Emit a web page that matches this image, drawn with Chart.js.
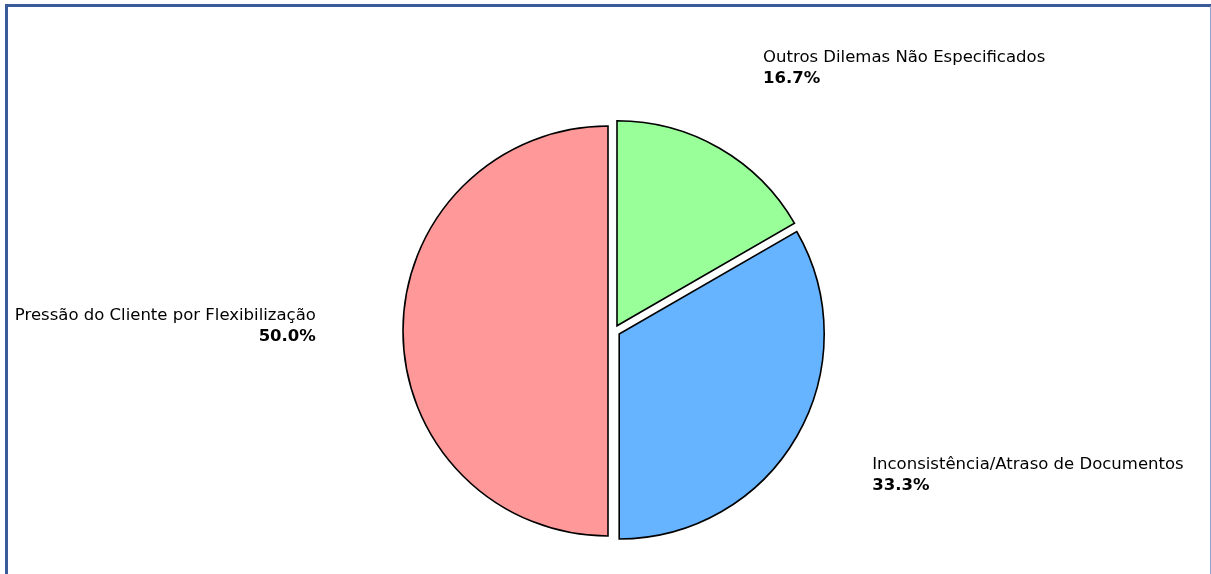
<!DOCTYPE html>
<html>
<head>
<meta charset="utf-8">
<script src="https://cdn.jsdelivr.net/npm/chart.js@4.4.0/dist/chart.umd.min.js"></script>
<style>
  html, body { margin: 0; padding: 0; background: #ffffff; }
  #wrap { position: relative; width: 1211px; height: 574px; overflow: hidden; background: #fff; }
  #c { position: absolute; left: 0; top: 0; }
  #frame { position: absolute; left: 5px; top: 4px; width: 1202px; height: 600px;
           border-left: 3px solid #3b5a9a; border-top: 3px solid #3b5a9a; border-right: 2px solid #8ea5d0; }
</style>
</head>
<body>
<div id="wrap">
  <canvas id="c" width="1211" height="574"></canvas>
  <div id="frame"></div>
</div>
<script>
// Data (Chart.js draws clockwise from 12 o'clock, so order follows that)
const categories = ["Outros Dilemas Não Especificados", "Inconsistência/Atraso de Documentos", "Pressão do Cliente por Flexibilização"];
const values = [1, 2, 3];
const colors = ["#99ff99", "#66b3ff", "#ff9999"];

const total = values.reduce((a, b) => a + b, 0);
const EXPLODE_PX = 6;

function midAngle(arc) {
  const p = arc.getProps(['startAngle', 'endAngle'], true);
  return (p.startAngle + p.endAngle) / 2;
}

// Draw each wedge translated outward (matplotlib-style explode)
const explodePlugin = {
  id: 'explode',
  beforeDatasetDraw(chart, args) {
    const ctx = chart.ctx;
    args.meta.data.forEach(arc => {
      const mid = midAngle(arc);
      ctx.save();
      ctx.translate(Math.cos(mid) * EXPLODE_PX, Math.sin(mid) * EXPLODE_PX);
      arc.draw(ctx, chart.chartArea);
      ctx.restore();
    });
    return false;
  }
};

const labelPlugin = {
  id: 'outerLabels',
  afterDatasetsDraw(chart) {
    const ctx = chart.ctx;
    const meta = chart.getDatasetMeta(0);
    meta.data.forEach((arc, i) => {
      const p = arc.getProps(['x', 'y', 'outerRadius'], true);
      const mid = midAngle(arc);
      const dist = EXPLODE_PX + 1.425 * p.outerRadius;
      const x = p.x + Math.cos(mid) * dist;
      const y = p.y + Math.sin(mid) * dist;
      const align = Math.cos(mid) >= 0 ? 'left' : 'right';
      const pct = (values[i] / total * 100).toFixed(1) + '%';
      ctx.save();
      ctx.fillStyle = '#000';
      ctx.textAlign = align;
      ctx.textBaseline = 'middle';
      ctx.font = '16.5px "DejaVu Sans"';
      ctx.fillText(categories[i], x, y - 15);
      ctx.font = 'bold 16.5px "DejaVu Sans"';
      ctx.fillText(pct, x, y + 5.5);
      ctx.restore();
    });
  }
};

new Chart(document.getElementById('c'), {
  type: 'pie',
  data: {
    labels: categories,
    datasets: [{
      data: values,
      backgroundColor: colors,
      borderColor: '#000000',
      borderWidth: 1.6,
      borderJoinStyle: 'miter'
    }]
  },
  options: {
    responsive: false,
    animation: false,
    devicePixelRatio: 1,
    radius: 205,
    layout: { padding: { left: 17, right: 0, top: 88, bottom: 0 } },
    plugins: {
      legend: { display: false },
      tooltip: { enabled: false },
      title: { display: false }
    }
  },
  plugins: [explodePlugin, labelPlugin]
});
</script>
</body>
</html>
